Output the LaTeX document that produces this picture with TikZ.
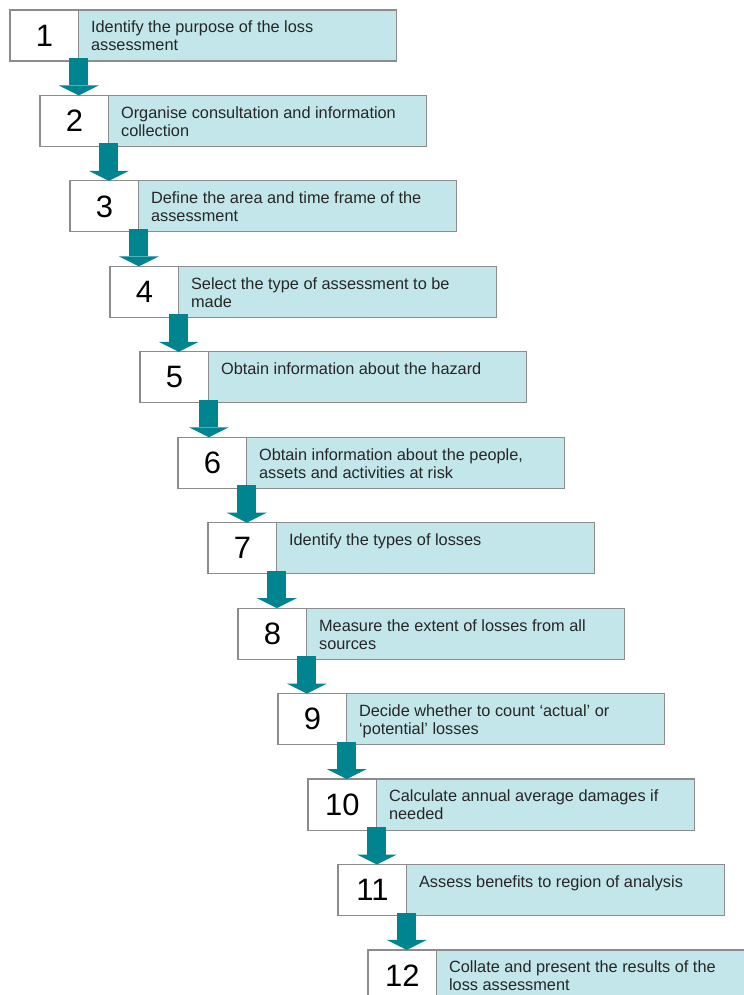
\documentclass[tikz,border=0pt]{standalone}
\usepackage{fontspec}
\setmainfont{Liberation Sans}
\usetikzlibrary{positioning,arrows.meta}
\definecolor{stepcyan}{HTML}{C2E6EA}
\definecolor{stepteal}{HTML}{00848F}
\definecolor{stepgray}{HTML}{8C8C8C}
\tikzset{
    numbox/.style={draw=stepgray, line width=0.8pt, fill=white, outer sep=0pt, inner sep=0pt,
        minimum width=1.72cm, minimum height=1.275cm, font=\fontsize{22pt}{26pt}\selectfont},
    txtbox/.style={draw=stepgray, line width=0.8pt, fill=stepcyan, outer sep=0pt, inner sep=0pt,
        minimum width=7.93cm, minimum height=1.275cm},
    steptext/.style={anchor=north west, inner sep=0pt, align=left, text=black!85,
        font=\fontsize{11.6pt}{12.8pt}\selectfont},
    flow/.style={draw=stepteal, line width=0.475cm,
        -{Triangle[width=1cm, length=0.25cm, line width=0pt]}}
}
\begin{document}
\begin{tikzpicture}[x=0.025cm, y=-0.025cm]
    \useasboundingbox (0,0) rectangle (744,995);
    \foreach \n/\x/\t [evaluate={\y=10+85.45*(\n-1);}] in {
        1/10/{Identify the purpose of the loss\\assessment},
        2/40/{Organise consultation and information\\collection},
        3/70/{Define the area and time frame of the\\assessment},
        4/110/{Select the type of assessment to be\\made},
        5/140/{Obtain information about the hazard},
        6/178/{Obtain information about the people,\\assets and activities at risk},
        7/208/{Identify the types of losses},
        8/238/{Measure the extent of losses from all\\sources},
        9/278/{Decide whether to count ‘actual’ or\\‘potential’ losses},
        10/308/{Calculate annual average damages if\\needed},
        11/338/{Assess benefits to region of analysis},
        12/368/{Collate and present the results of the\\loss assessment}}
    {
        \node[numbox, anchor=north west] (num\n) at (\x,\y) {\n};
        \node[txtbox, right=0pt of num\n] (box\n) {};
        \node[steptext] (txt\n) at ([xshift=0.3cm, yshift=-0.27cm]box\n.north west) {\t};
    }
    \foreach \n [evaluate={\m=int(\n+1)}] in {1,...,11}
    {
        \draw[flow] ([yshift=0.075cm]num\n.south east) -- (num\n.south east |- num\m.north);
    }
\end{tikzpicture}
\end{document}
